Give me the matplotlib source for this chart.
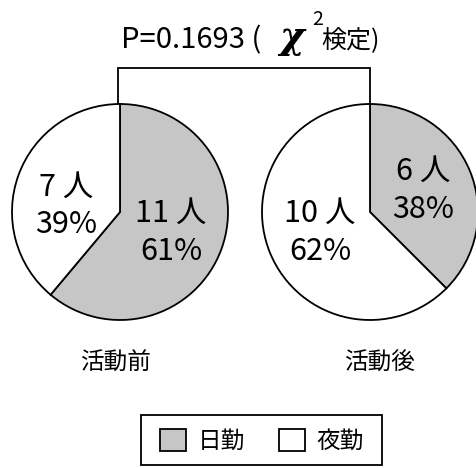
import matplotlib
matplotlib.use("Agg")
import matplotlib.pyplot as plt
from matplotlib.patches import Rectangle

plt.rcParams['font.family'] = ['Noto Sans CJK JP', 'DejaVu Sans']

# shift counts before / after the activity
groups = ["活動前", "活動後"]
shifts = ["日勤", "夜勤"]
day_counts = [11, 6]
night_counts = [7, 10]
day_pct = ["61%", "38%"]
night_pct = ["39%", "62%"]
p_value = "0.1693"

W, H = 477, 468
fig = plt.figure(figsize=(W / 100, H / 100), dpi=100)
ax = fig.add_axes([0, 0, 1, 1])

GRAY = "#c6c6c6"
radius = 108
centers = [(120, H - 212), (370, H - 212)]
# label offsets (day label, night label) relative to each pie centre
day_offsets = [(51, -20), (53, 22)]
night_offsets = [(-54, 6), (-50, -20)]
LBL = 22

wedges = None
for i, (cx, cy) in enumerate(centers):
    w, _ = ax.pie([day_counts[i], night_counts[i]], colors=[GRAY, "white"],
                  startangle=90, counterclock=False, center=(cx, cy),
                  radius=radius, frame=True,
                  wedgeprops=dict(edgecolor="black", linewidth=1.3))
    if wedges is None:
        wedges = w
    dx, dy = day_offsets[i]
    ax.text(cx + dx, cy + dy + 19, f"{day_counts[i]} 人", ha="center", va="center", fontsize=LBL)
    ax.text(cx + dx, cy + dy - 19, day_pct[i], ha="center", va="center", fontsize=LBL)
    dx, dy = night_offsets[i]
    ax.text(cx + dx, cy + dy + 19, f"{night_counts[i]} 人", ha="center", va="center", fontsize=LBL)
    ax.text(cx + dx, cy + dy - 19, night_pct[i], ha="center", va="center", fontsize=LBL)

ax.set_xlim(0, W)
ax.set_ylim(0, H)
ax.set_aspect("equal")
ax.axis("off")

# group names under the pies
ax.text(116, H - 363, groups[0], ha="center", va="center", fontsize=17)
ax.text(380, H - 363, groups[1], ha="center", va="center", fontsize=17)

# bracket joining the two pies
bx0, bx1 = centers[0][0] - 2, centers[1][0]
ax.plot([bx0, bx0, bx1, bx1], [H - 103, H - 68, H - 68, H - 103],
        color="black", lw=1.3, solid_joinstyle="miter")

# test result above the bracket
ax.text(121, H - 48, f"P=0.{p_value[2:]} (", ha="left", va="baseline", fontsize=21)
ax.text(279, H - 48, "χ", ha="left", va="baseline", fontsize=27,
        family="DejaVu Serif", style="italic", weight="bold")
ax.text(312, H - 25, "2", ha="left", va="baseline", fontsize=14)
ax.text(321, H - 48, "検定)", ha="left", va="baseline", fontsize=18)

# legend with a wider box drawn separately
leg = fig.legend(wedges, shifts, loc="center", ncol=2,
                 bbox_to_anchor=(262 / W, 1 - 441 / H), fontsize=17,
                 frameon=False, handlelength=1.1, handleheight=1.1,
                 handletextpad=0.5, columnspacing=1.4)
ax.add_patch(Rectangle((141, H - 465), 241, 50, facecolor="none",
                       edgecolor="black", lw=1.3))

fig.savefig("out.png", dpi=100)
